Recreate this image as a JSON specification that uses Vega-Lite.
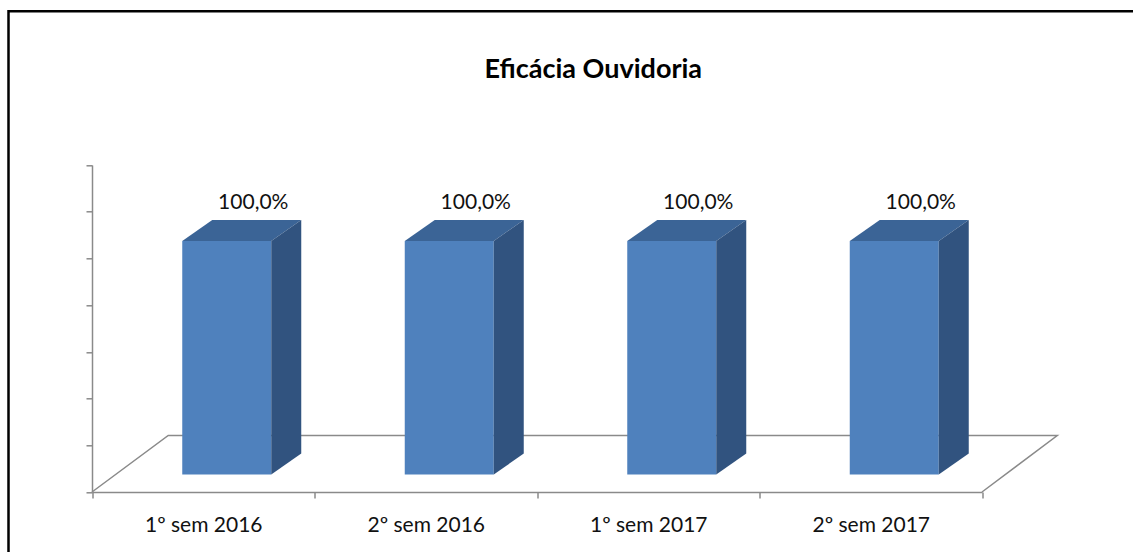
{
  "$schema": "https://vega.github.io/schema/vega-lite/v6.json",
  "width": 1127.5,
  "height": 543.7,
  "autosize": {"type": "none"},
  "padding": {"left": 8.5, "top": 11.3, "right": -3, "bottom": -3},
  "background": "white",
  "view": {"stroke": "#000000", "strokeWidth": 2.5, "fill": "white"},
  "title": {
    "text": "Eficácia Ouvidoria",
    "font": "Lato",
    "fontSize": 27,
    "fontWeight": "bold",
    "color": "#000000",
    "anchor": "middle",
    "frame": "group",
    "offset": 0,
    "baseline": "middle",
    "dx": 21,
    "dy": 86
  },
  "data": {
    "values": [
      {"periodo": "1º sem 2016", "eficacia": 1.0},
      {"periodo": "2º sem 2016", "eficacia": 1.0},
      {"periodo": "1º sem 2017", "eficacia": 1.0},
      {"periodo": "2º sem 2017", "eficacia": 1.0}
    ]
  },
  "encoding": {
    "x": {
      "field": "periodo",
      "type": "nominal",
      "sort": null,
      "title": null,
      "scale": {"range": [83.5, 973.5], "paddingInner": 0, "paddingOuter": 0},
      "axis": {
        "offset": -63,
        "tickBand": "extent",
        "tickSize": 6,
        "tickColor": "#8a8a8a",
        "tickWidth": 1.5,
        "domainColor": "#8a8a8a",
        "domainWidth": 1.5,
        "labelAngle": 0,
        "labelFont": "Lato",
        "labelFontSize": 21,
        "labelColor": "#111111",
        "labelBaseline": "middle",
        "labelPadding": 27
      }
    },
    "y": {
      "field": "eficacia",
      "type": "quantitative",
      "title": null,
      "scale": {"domain": [0, 1.4], "range": [480.7, 153.7], "nice": false, "zero": true},
      "axis": {
        "offset": -83.5,
        "values": [0, 0.2, 0.4, 0.6, 0.8, 1.0, 1.2, 1.4],
        "labels": false,
        "grid": false,
        "tickSize": 6,
        "tickColor": "#8a8a8a",
        "tickWidth": 1.5,
        "domainColor": "#8a8a8a",
        "domainWidth": 1.5
      }
    }
  },
  "layer": [
    {
      "transform": [{"filter": "datum.periodo === '1º sem 2016'"}],
      "mark": {
        "type": "point",
        "shape": "M -111.25 0 L -35 -56.5 L 854 -56.5 L 778.75 0",
        "size": 4,
        "filled": false,
        "fill": null,
        "stroke": "#8a8a8a",
        "strokeWidth": 1.5,
        "opacity": 1
      },
      "encoding": {"y": {"datum": 0, "type": "quantitative"}}
    },
    {
      "mark": {
        "type": "bar",
        "width": {"band": 0.4},
        "color": "#4F81BD",
        "xOffset": 23.5,
        "x2Offset": 23.5,
        "yOffset": -17.5,
        "y2Offset": -17.5
      }
    },
    {
      "mark": {
        "type": "point",
        "shape": "M -44.5 0 L -14.5 -21 L 74.5 -21 L 44.5 0 Z",
        "size": 4,
        "filled": true,
        "color": "#3B6496",
        "strokeWidth": 0,
        "opacity": 1,
        "xOffset": 23.5,
        "yOffset": -17.5
      }
    },
    {
      "mark": {
        "type": "point",
        "shape": "M 44.5 0 L 74.5 -21 L 74.5 212.6 L 44.5 233.6 Z",
        "size": 4,
        "filled": true,
        "color": "#31537F",
        "strokeWidth": 0,
        "opacity": 1,
        "xOffset": 23.5,
        "yOffset": -17.5
      }
    },
    {
      "mark": {
        "type": "text",
        "font": "Lato",
        "fontSize": 21,
        "color": "#111111",
        "baseline": "middle",
        "align": "center",
        "xOffset": 50,
        "yOffset": -55
      },
      "encoding": {
        "text": {"field": "eficacia", "type": "quantitative", "format": ".1%"}
      }
    }
  ],
  "config": {
    "locale": {
      "number": {"decimal": ",", "thousands": ".", "grouping": [3], "currency": ["R$", ""]}
    }
  }
}
